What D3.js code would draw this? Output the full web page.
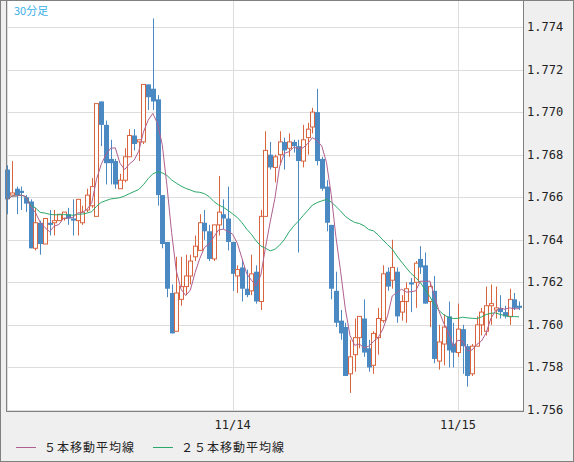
<!DOCTYPE html>
<html><head><meta charset="utf-8">
<script src="https://cdn.jsdelivr.net/npm/d3@7"></script>
<style>body{margin:0;background:#fff}</style>
</head><body>
<div id="chart"></div>
<script>
// OHLC, 30分足
const candles = [
[1.7673,1.7675,1.7652,1.7659],[1.7661,1.7677,1.7661,1.7662],[1.7664,1.7665,1.7652,1.7661],[1.7663,1.7665,1.7654,1.7662],
[1.7660,1.7661,1.7653,1.7657],[1.7658,1.7659,1.7636,1.7636],[1.7636,1.7655,1.7635,1.7648],[1.7648,1.7649,1.7633,1.7638],
[1.7638,1.7650,1.7638,1.7650],[1.7648,1.7654,1.7642,1.7647],[1.7648,1.7654,1.7642,1.7649],[1.7649,1.7652,1.7649,1.7652],
[1.7650,1.7653,1.7649,1.7653],[1.7652,1.7655,1.7647,1.7650],[1.7650,1.7659,1.7642,1.7649],[1.7649,1.7659,1.7642,1.7659],
[1.7648,1.7656,1.7647,1.7653],[1.7654,1.7664,1.7653,1.7661],[1.7656,1.7669,1.7655,1.7665],[1.7651,1.7704,1.7651,1.7704],
[1.7705,1.7705,1.7684,1.7694],[1.7694,1.7696,1.7666,1.7676],[1.7678,1.7687,1.7666,1.7676],[1.7677,1.7678,1.7664,1.7666],
[1.7664,1.7671,1.7664,1.7668],[1.7668,1.7683,1.7667,1.7679],[1.7679,1.7692,1.7679,1.7689],[1.7689,1.7692,1.7682,1.7685],
[1.7686,1.7687,1.7677,1.7687],[1.7686,1.7713,1.7685,1.7713],[1.7713,1.7713,1.7701,1.7707],[1.7711,1.7744,1.7701,1.7705],
[1.7706,1.7708,1.7656,1.7661],[1.7661,1.7661,1.7636,1.7638],[1.7639,1.7639,1.7613,1.7617],[1.7615,1.7619,1.7596,1.7596],
[1.7597,1.7632,1.7597,1.7615],[1.7612,1.7632,1.7609,1.7618],[1.7618,1.7633,1.7614,1.7623],[1.7623,1.7633,1.7619,1.7630],
[1.7632,1.7642,1.7630,1.7637],[1.7635,1.7652,1.7635,1.7648],[1.7648,1.7654,1.7640,1.7644],[1.7644,1.7647,1.7630,1.7631],
[1.7631,1.7647,1.7630,1.7647],[1.7647,1.7670,1.7642,1.7653],[1.7652,1.7659,1.7645,1.7650],[1.7650,1.7665,1.7635,1.7639],
[1.7639,1.7639,1.7616,1.7624],[1.7623,1.7628,1.7615,1.7626],[1.7627,1.7631,1.7611,1.7617],[1.7617,1.7626,1.7613,1.7614],
[1.7616,1.7633,1.7614,1.7624],[1.7625,1.7628,1.7610,1.7611],[1.7611,1.7654,1.7607,1.7651],[1.7651,1.7691,1.7651,1.7682],
[1.7680,1.7686,1.7673,1.7674],[1.7674,1.7680,1.7667,1.7679],[1.7680,1.7691,1.7675,1.7686],[1.7686,1.7688,1.7673,1.7682],
[1.7683,1.7690,1.7679,1.7686],[1.7686,1.7687,1.7681,1.7684],[1.7684,1.7687,1.7634,1.7677],[1.7677,1.7694,1.7674,1.7687],
[1.7688,1.7695,1.7680,1.7692],[1.7693,1.7702,1.7690,1.7700],[1.7700,1.7711,1.7675,1.7677],[1.7678,1.7679,1.7663,1.7664],
[1.7665,1.7668,1.7644,1.7648],[1.7647,1.7647,1.7612,1.7617],[1.7616,1.7625,1.7599,1.7601],[1.7602,1.7607,1.7593,1.7596],
[1.7599,1.7601,1.7576,1.7576],[1.7577,1.7593,1.7568,1.7585],[1.7586,1.7603,1.7578,1.7594],[1.7594,1.7604,1.7589,1.7604],
[1.7603,1.7612,1.7585,1.7587],[1.7589,1.7593,1.7578,1.7580],[1.7581,1.7597,1.7577,1.7596],[1.7594,1.7608,1.7586,1.7603],
[1.7602,1.7628,1.7601,1.7624],[1.7625,1.7627,1.7616,1.7618],[1.7621,1.7640,1.7617,1.7627],[1.7625,1.7627,1.7601,1.7604],
[1.7606,1.7614,1.7602,1.7611],[1.7611,1.7620,1.7601,1.7617],[1.7620,1.7622,1.7606,1.7619],[1.7620,1.7630,1.7608,1.7629],
[1.7631,1.7637,1.7624,1.7627],[1.7628,1.7634,1.7610,1.7610],[1.7611,1.7620,1.7599,1.7618],[1.7616,1.7623,1.7582,1.7584],
[1.7583,1.7600,1.7579,1.7592],[1.7591,1.7605,1.7581,1.7599],[1.7604,1.7611,1.7580,1.7588],[1.7591,1.7601,1.7580,1.7587],
[1.7587,1.7610,1.7585,1.7598],[1.7598,1.7600,1.7577,1.7590],[1.7590,1.7591,1.7571,1.7576],[1.7577,1.7591,1.7576,1.7590],
[1.7590,1.7604,1.7590,1.7600],[1.7600,1.7608,1.7595,1.7606],[1.7597,1.7618,1.7595,1.7609],[1.7609,1.7619,1.7600,1.7610],
[1.7607,1.7618,1.7603,1.7608],[1.7608,1.7614,1.7603,1.7606],[1.7606,1.7609,1.7603,1.7604],[1.7604,1.7617,1.7600,1.7612],
[1.7612,1.7615,1.7607,1.7608],[1.7609,1.7611,1.7607,1.7608]
];
const yTicks = [1.756, 1.758, 1.760, 1.762, 1.764, 1.766, 1.768, 1.770, 1.772, 1.774];
const dayLabels = ["11/14", "11/15"];
const dayStartIndex = [48, 96];   // 先頭から数えた足の位置
const legendNames = ["５本移動平均線", "２５本移動平均線"];

const W = 574, H = 462;
const plot = { left: 7, right: 523, top: 1, bottom: 411 };

const svg = d3.select("#chart").append("svg")
    .attr("width", W).attr("height", H)
    .style("font-family", "'DejaVu Sans Mono', monospace");

svg.append("rect").attr("x", 0.5).attr("y", 0.5).attr("width", W - 1).attr("height", H - 1)
    .attr("fill", "#efefef").attr("stroke", "#808080");
svg.append("rect").attr("x", plot.left).attr("y", plot.top)
    .attr("width", plot.right - plot.left).attr("height", plot.bottom - plot.top)
    .attr("fill", "#fff");

const x = d3.scaleLinear().domain([0, candles.length - 1]).range([7.3, 519]);
const y = d3.scaleLinear().domain([1.756, 1.774]).range([410, 27]);

// グリッド
svg.append("g").selectAll("line").data(yTicks).enter().append("line")
    .attr("x1", plot.left).attr("x2", plot.right)
    .attr("y1", d => Math.round(y(d)) + 0.5).attr("y2", d => Math.round(y(d)) + 0.5)
    .attr("stroke", "#dddddd");
svg.append("g").selectAll("line").data([0].concat(dayStartIndex)).enter().append("line")
    .attr("x1", d => Math.round(x(d)) + 0.5).attr("x2", d => Math.round(x(d)) + 0.5)
    .attr("y1", plot.top).attr("y2", plot.bottom)
    .attr("stroke", "#dddddd");

// ローソク足
const g = svg.append("g");
candles.forEach(function(c, i) {
    const up = c[3] >= c[0];
    const col = up ? "#d9653f" : "#4a89c2";
    const cx = Math.round(x(i)) + 0.5;
    g.append("line").attr("x1", cx).attr("x2", cx)
        .attr("y1", y(c[1])).attr("y2", y(c[2])).attr("stroke", col);
    const top = y(Math.max(c[0], c[3])), bot = y(Math.min(c[0], c[3]));
    if (up) {
        g.append("rect").attr("x", cx - 2).attr("y", top).attr("width", 4)
            .attr("height", Math.max(1, bot - top)).attr("fill", "#fff").attr("stroke", col);
    } else {
        g.append("rect").attr("x", cx - 2.5).attr("y", top).attr("width", 5)
            .attr("height", Math.max(1.5, bot - top)).attr("fill", col);
    }
});

// 移動平均
function ma(n) {
    return candles.map(function(c, i) {
        const s = candles.slice(Math.max(0, i - n + 1), i + 1);
        return d3.mean(s, d => d[3]);
    });
}
const line = d3.line().x((d, i) => x(i)).y(d => y(d));
svg.append("path").datum(ma(25)).attr("d", line)
    .attr("fill", "none").attr("stroke", "#2aa86a").attr("stroke-width", 1);
svg.append("path").datum(ma(5)).attr("d", line)
    .attr("fill", "none").attr("stroke", "#b0608e").attr("stroke-width", 1);

// 枠
svg.append("rect").attr("x", plot.left - 0.5).attr("y", 0.5)
    .attr("width", plot.right - plot.left + 1).attr("height", plot.bottom)
    .attr("fill", "none").attr("stroke", "#808080");

// 軸ラベル
svg.append("g").selectAll("text").data(yTicks).enter().append("text")
    .attr("x", 527).attr("y", d => y(d) + 4)
    .style("font-size", "12px").attr("fill", "#222")
    .text(d => d.toFixed(3));
svg.append("g").selectAll("text").data(dayLabels).enter().append("text")
    .attr("x", (d, i) => x(dayStartIndex[i])).attr("y", 429)
    .attr("text-anchor", "middle").style("font-size", "12px").attr("fill", "#222")
    .text(d => d);

svg.append("text").attr("x", 14).attr("y", 15)
    .style("font-family", "'Noto Sans CJK JP', sans-serif").style("font-size", "11px")
    .attr("fill", "#3ab0e8").text("30分足");

// 凡例
const legendX = [16, 153], legendCol = ["#b0608e", "#2aa86a"];
legendNames.forEach(function(name, i) {
    svg.append("line").attr("x1", legendX[i]).attr("x2", legendX[i] + 20)
        .attr("y1", 447.5).attr("y2", 447.5).attr("stroke", legendCol[i]);
    svg.append("text").attr("x", legendX[i] + 28).attr("y", 452)
        .style("font-family", "'Noto Sans CJK JP', sans-serif").style("font-size", "12px")
        .style("letter-spacing", "1px").attr("fill", "#222").text(name);
});
</script>
</body></html>
